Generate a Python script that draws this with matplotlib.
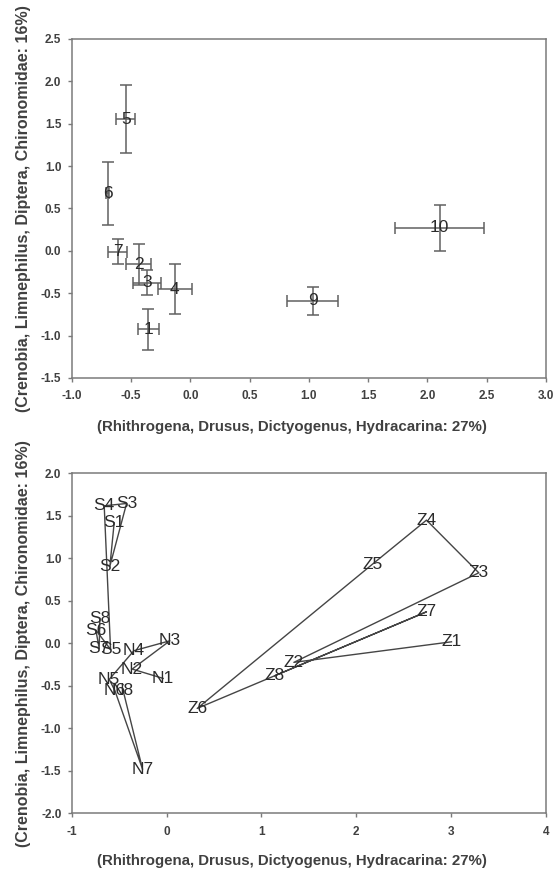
import matplotlib
matplotlib.use("Agg")
import matplotlib.pyplot as plt

plt.rcParams['font.family'] = ['Liberation Sans', 'DejaVu Sans']

# ---- Top panel: group means with error bars ----
grp_labels = ["1", "2", "3", "4", "5", "6", "7", "9", "10"]
grp_x = [-0.356, -0.435, -0.367, -0.131, -0.544, -0.699, -0.614, 1.031, 2.105]
grp_y = [-0.926, -0.158, -0.375, -0.450, 1.553, 0.679, -0.010, -0.591, 0.274]
grp_xerr = [0.09, 0.105, 0.117, 0.145, 0.08, 0.01, 0.08, 0.215, 0.375]
grp_yerr = [0.245, 0.24, 0.15, 0.295, 0.40, 0.37, 0.145, 0.17, 0.27]

# ---- Bottom panel: trajectories ----
s_labels = ["S1", "S2", "S3", "S4", "S5", "S6", "S7", "S8"]
s_x = [-0.554, -0.599, -0.423, -0.659, -0.592, -0.747, -0.712, -0.705]
s_y = [1.415, 0.906, 1.643, 1.615, -0.075, 0.153, -0.063, 0.290]

n_labels = ["N1", "N2", "N3", "N4", "N5", "N6", "N7", "N8"]
n_x = [-0.037, -0.364, 0.034, -0.346, -0.606, -0.546, -0.254, -0.459]
n_y = [-0.416, -0.306, 0.027, -0.090, -0.427, -0.561, -1.486, -0.561]

z_labels = ["Z1", "Z2", "Z3", "Z4", "Z5", "Z6", "Z7", "Z8"]
z_x = [3.005, 1.342, 3.293, 2.741, 2.172, 0.322, 2.741, 1.141]
z_y = [0.015, -0.227, 0.827, 1.447, 0.929, -0.769, 0.368, -0.384]

xlabel = "(Rhithrogena, Drusus, Dictyogenus, Hydracarina: 27%)"
ylabel = "(Crenobia, Limnephilus, Diptera, Chironomidae: 16%)"

top_xticks = [-1.0, -0.5, 0.0, 0.5, 1.0, 1.5, 2.0, 2.5, 3.0]
top_yticks = [-1.5, -1.0, -0.5, 0.0, 0.5, 1.0, 1.5, 2.0, 2.5]
bot_xticks = [-1, 0, 1, 2, 3, 4]
bot_yticks = [-2.0, -1.5, -1.0, -0.5, 0.0, 0.5, 1.0, 1.5, 2.0]

spine_c = "#7a7a7a"
line_c = "#454545"
text_c = "#2b2b2b"
label_c = "#404040"

fig = plt.figure(figsize=(5.53, 8.76), dpi=100)
ax1 = fig.add_axes([0.130, 0.5685, 0.857, 0.387])
ax2 = fig.add_axes([0.130, 0.0719, 0.857, 0.388])


def style(ax, xt, yt, xfmt, yfmt, xlab_y):
    for s in ax.spines.values():
        s.set_color(spine_c)
        s.set_linewidth(1.1)
    ax.set_xticks(xt)
    ax.set_yticks(yt)
    ax.set_xticklabels([xfmt.format(v) for v in xt])
    ax.set_yticklabels([yfmt.format(v) for v in yt])
    ax.tick_params(direction="out", length=3, width=1.0, color=spine_c,
                   labelsize=8.5, labelcolor=label_c)
    ax.tick_params(axis="x", pad=6)
    ax.tick_params(axis="y", pad=4.5)
    for lab in ax.get_xticklabels() + ax.get_yticklabels():
        lab.set_fontweight("bold")
    ax.set_xlabel(xlabel, fontsize=10.8, fontweight="bold", color=label_c)
    ax.xaxis.set_label_coords(0.464, xlab_y)
    ax.xaxis.label.set_verticalalignment("center")
    ax.set_ylabel(ylabel, fontsize=11.5, fontweight="bold", color=label_c, labelpad=7)


# Top panel
ax1.errorbar(grp_x, grp_y, xerr=grp_xerr, yerr=grp_yerr, fmt="none",
             ecolor="#606060", elinewidth=1.1, capsize=4, capthick=1.1)
for lab, x, y in zip(grp_labels, grp_x, grp_y):
    ax1.text(x, y, lab, ha="center", va="center", fontsize=12.5, color=text_c)
ax1.set_xlim(-1.0, 3.0)
ax1.set_ylim(-1.5, 2.5)
style(ax1, top_xticks, top_yticks, "{:.1f}", "{:.1f}", -0.145)

# Bottom panel
for labs, xs, ys in [(s_labels, s_x, s_y), (n_labels, n_x, n_y), (z_labels, z_x, z_y)]:
    ax2.plot(xs, ys, color=line_c, linewidth=1.0)
    for lab, x, y in zip(labs, xs, ys):
        ax2.text(x, y, lab, ha="center", va="center", fontsize=12.5, color=text_c)
ax2.set_xlim(-1, 4)
ax2.set_ylim(-2.0, 2.0)
style(ax2, bot_xticks, bot_yticks, "{:d}", "{:.1f}", -0.142)

fig.savefig("out.png", dpi=100)
